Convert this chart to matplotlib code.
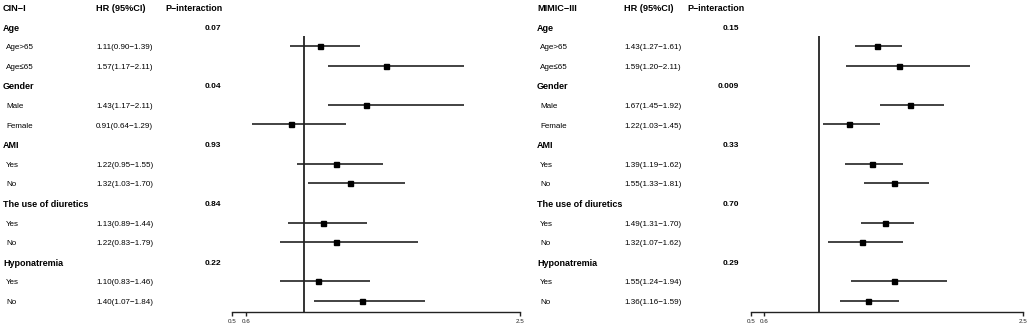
import matplotlib.pyplot as plt
from matplotlib.transforms import blended_transform_factory

plt.rcParams['font.family'] = ['Liberation Sans', 'DejaVu Sans']

# Data
groups = ['Age', 'Gender', 'AMI', 'The use of diuretics', 'Hyponatremia']
subgroups = [['Age>65', 'Age≤65'], ['Male', 'Female'], ['Yes', 'No'],
             ['Yes', 'No'], ['Yes', 'No']]

cin_p = ['0.07', '0.04', '0.93', '0.84', '0.22']
cin_hr = [1.11, 1.57, 1.43, 0.91, 1.22, 1.32, 1.13, 1.22, 1.10, 1.40]
cin_lo = [0.90, 1.17, 1.17, 0.64, 0.95, 1.03, 0.89, 0.83, 0.83, 1.07]
cin_hi = [1.39, 2.11, 2.11, 1.29, 1.55, 1.70, 1.44, 1.79, 1.46, 1.84]

mim_p = ['0.15', '0.009', '0.33', '0.70', '0.29']
mim_hr = [1.43, 1.59, 1.67, 1.22, 1.39, 1.55, 1.49, 1.32, 1.55, 1.36]
mim_lo = [1.27, 1.20, 1.45, 1.03, 1.19, 1.33, 1.31, 1.07, 1.24, 1.16]
mim_hi = [1.61, 2.11, 1.92, 1.45, 1.62, 1.81, 1.70, 1.62, 1.94, 1.59]

ticks = [0.5, 0.6, 2.5]

W, H = 1030, 328
fig = plt.figure(figsize=(W / 100, H / 100), dpi=100)

# rows: -1 = column header, 0 = Age, 1,2 = subgroups, 3 = Gender ...
y_bottom = 14.55
y_top = -1.35


def panel(title, x_label, x_sub, x_hr, x_phead, x_p, ax_left, ax_width,
          hr, lo, hi, pvals):
    ax = fig.add_axes([ax_left / W, 16.3 / H, ax_width / W, 311.7 / H])
    ax.set_xlim(0.5, 2.5)
    ax.set_ylim(y_bottom, y_top)
    for s in ['top', 'right', 'left']:
        ax.spines[s].set_visible(False)
    ax.spines['bottom'].set_linewidth(1.0)
    ax.spines['bottom'].set_color('#222222')
    ax.set_yticks([])
    ax.set_xticks(ticks)
    ax.set_xticklabels([str(t) for t in ticks])
    ax.tick_params(axis='x', length=3, width=1.0, labelsize=4.5, pad=2,
                   colors='#222222')
    ax.patch.set_alpha(0)

    # reference line at HR = 1
    ax.vlines(1, 0.5, y_bottom, color='#111111', lw=1.2, clip_on=False)

    tr = blended_transform_factory(fig.transFigure, ax.transData)

    def txt(x, y, s, **kw):
        fig.text(x / W, y + 0.08, s, transform=tr, va='center', **kw)

    txt(x_label, -1, title, fontsize=6.6, fontweight='bold')
    txt(x_hr, -1, 'HR (95%CI)', fontsize=6.6, fontweight='bold')
    txt(x_phead, -1, 'P−interaction', fontsize=6.4, fontweight='bold')

    k = 0
    row = 0
    for g, subs, p in zip(groups, subgroups, pvals):
        txt(x_label, row, g, fontsize=6.5, fontweight='bold')
        txt(x_p, row, p, fontsize=6.0, fontweight='bold', ha='right')
        row += 1
        for s in subs:
            txt(x_sub, row, s, fontsize=5.8)
            txt(x_hr, row, '%.2f(%.2f−%.2f)' % (hr[k], lo[k], hi[k]),
                fontsize=5.8)
            ax.hlines(row, lo[k], hi[k], color='#222222', lw=1.2)
            ax.plot(hr[k], row, 's', color='black', ms=3.6)
            k += 1
            row += 1
    return ax


panel('CIN−I', 3, 6, 96, 165, 221, 232, 288,
      cin_hr, cin_lo, cin_hi, cin_p)
panel('MIMIC−III', 537, 540, 624, 687, 739, 750.7, 272,
      mim_hr, mim_lo, mim_hi, mim_p)

plt.savefig('out.png', dpi=100)
